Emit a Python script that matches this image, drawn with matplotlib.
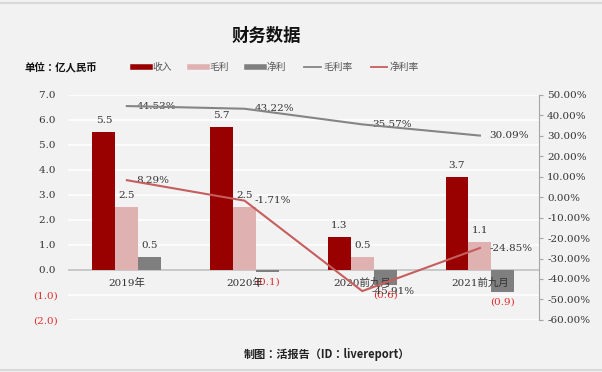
import numpy as np
import matplotlib.pyplot as plt
from matplotlib.lines import Line2D
from matplotlib.ticker import FuncFormatter

# data (亿人民币)
categories = ["2019年", "2020年", "2020前九月", "2021前九月"]
revenue = [5.5, 5.7, 1.3, 3.7]
gross_profit = [2.5, 2.5, 0.5, 1.1]
net_profit = [0.5, -0.1, -0.6, -0.9]
gross_margin = [44.53, 43.22, 35.57, 30.09]
net_margin = [8.29, -1.71, -45.91, -24.85]

BG = "#f2f2f2"
C_REV = "#990000"
C_GP = "#dfb1b1"
C_NP = "#7f7f7f"
C_GM = "#858585"
C_NM = "#c65e5e"
NUM_FONT = ["DejaVu Serif", "Noto Sans CJK SC"]
CJK = "Noto Sans CJK SC"
CJK_JP = "Noto Sans CJK JP"  # centred full-width colon, like the original

fig = plt.figure(figsize=(6.02, 3.72), dpi=100, facecolor=BG)
ax = fig.add_axes([0.113, 0.140, 0.782, 0.605])
ax.set_facecolor(BG)
ax2 = ax.twinx()

x = np.arange(len(categories))
w = 0.195

def bar_label(b, v):
    if v >= 0:
        txt, off, va, color = f"{v:.1f}", 5, "bottom", "#333333"
    else:
        txt, off, va, color = f"({abs(v):.1f})", -4, "top", "#e03030"
    ax.annotate(txt, (b.get_x() + b.get_width() / 2, v), xytext=(0, off),
                textcoords="offset points", ha="center", va=va,
                fontsize=7.5, color=color, family=NUM_FONT)

for vals, off, col in [(revenue, -w, C_REV), (gross_profit, 0, C_GP), (net_profit, w, C_NP)]:
    bars = ax.bar(x + off, vals, w, color=col, zorder=3)
    for b, v in zip(bars, vals):
        bar_label(b, v)

ax.set_xlim(-0.5, 3.5)
ax.set_ylim(-2, 7)
ax.set_yticks(np.arange(-2, 8, 1))
ax.grid(axis="y", color="white", linewidth=1.2, zorder=0)
ax.axhline(0, color="#bfbfbf", linewidth=1.2, zorder=2)
ax.set_xticks([])
for s in ["left", "top", "bottom", "right"]:
    ax.spines[s].set_visible(False)
ax.tick_params(axis="y", length=0, pad=7)

def left_fmt(v, pos):
    return f"({abs(v):.1f})" if v < 0 else f"{v:.1f} "
ax.yaxis.set_major_formatter(FuncFormatter(left_fmt))
for lab, v in zip(ax.get_yticklabels(), np.arange(-2, 8, 1)):
    lab.set_family(NUM_FONT)
    lab.set_fontsize(7.5)
    lab.set_color("#e03030" if v < 0 else "#333333")

for i, c in enumerate(categories):
    ax.annotate(c, (i, 0), xytext=(0, -5.5), textcoords="offset points",
                ha="center", va="top", fontsize=7.5, color="#333333",
                family=NUM_FONT, zorder=6)

# margins on the right axis
ax2.plot(x, gross_margin, color=C_GM, linewidth=1.5, zorder=4)
ax2.plot(x, net_margin, color=C_NM, linewidth=1.5, zorder=4)
for i, v in enumerate(gross_margin):
    ax2.annotate(f"{v:.2f}%", (i, v), xytext=(7, 0), textcoords="offset points",
                 ha="left", va="center", fontsize=7.5, color="#333333", family=NUM_FONT)
for i, v in enumerate(net_margin):
    ax2.annotate(f"{v:.2f}%", (i, v), xytext=(7, 0), textcoords="offset points",
                 ha="left", va="center", fontsize=7.5, color="#333333", family=NUM_FONT)

ax2.set_ylim(-60, 50)
ax2.set_yticks(np.arange(-60, 51, 10))
ax2.yaxis.set_major_formatter(FuncFormatter(lambda v, p: f"{v:.2f}%"))
for s in ["left", "top", "bottom"]:
    ax2.spines[s].set_visible(False)
ax2.spines["right"].set_color("#a6a6a6")
ax2.tick_params(axis="y", length=3, color="#a6a6a6", pad=3, labelsize=7.5, labelcolor="#333333")
for lab in ax2.get_yticklabels():
    lab.set_family(NUM_FONT)

# titles and legend
fig.text(0.442, 0.905, "财务数据", ha="center", va="center", fontsize=12.5,
         fontweight="bold", family=CJK, color="#111111")
fig.text(0.040, 0.820, "单位：亿人民币", ha="left", va="center", fontsize=7.5,
         fontweight="bold", family=CJK_JP, color="#111111")
handles = [Line2D([], [], color=C_REV, linewidth=4),
           Line2D([], [], color=C_GP, linewidth=4),
           Line2D([], [], color=C_NP, linewidth=4),
           Line2D([], [], color=C_GM, linewidth=1.3),
           Line2D([], [], color=C_NM, linewidth=1.3)]
fig.legend(handles, ["收入", "毛利", "净利", "毛利率", "净利率"], ncol=5,
           loc="center left", bbox_to_anchor=(0.207, 0.820), frameon=False,
           prop={"family": CJK, "size": 7}, handlelength=1.7, handletextpad=0.25,
           columnspacing=1.9, labelcolor="#555555")
fig.text(0.543, 0.048, "制图：活报告（ID：livereport）", ha="center", va="center",
         fontsize=8, fontweight="bold", family=CJK_JP, color="#222222")

fig.add_artist(Line2D([0, 1], [0.993, 0.993], color="#d9d9d9", linewidth=1.5))
fig.add_artist(Line2D([0, 1], [0.005, 0.005], color="#d9d9d9", linewidth=1.5))

fig.savefig("out.png", dpi=100, facecolor=BG)
